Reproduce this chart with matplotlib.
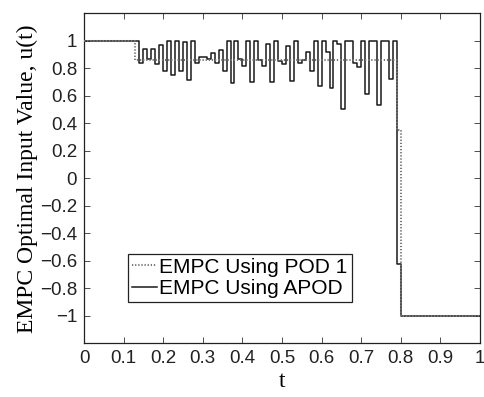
import matplotlib
matplotlib.use("Agg")
import matplotlib.pyplot as plt

# Switching times of the input signal
apod_t = [0.00, 0.14, 0.15, 0.16, 0.17, 0.18, 0.19, 0.20, 0.21, 0.22, 0.23,
          0.24, 0.25, 0.26, 0.27, 0.28, 0.29, 0.30, 0.31, 0.32, 0.33,
          0.34, 0.35, 0.36, 0.37, 0.38, 0.39, 0.40, 0.41, 0.42, 0.43,
          0.44, 0.45, 0.46, 0.47, 0.48, 0.49, 0.50, 0.51, 0.52, 0.53,
          0.54, 0.55, 0.56, 0.57, 0.58, 0.59, 0.60, 0.61, 0.62, 0.63,
          0.64, 0.65, 0.66, 0.67, 0.68, 0.69, 0.70, 0.71, 0.72, 0.73,
          0.74, 0.75, 0.76, 0.77, 0.78, 0.79, 0.80, 1.00]
apod_u = [1.00, 0.836, 0.937, 0.865, 0.937, 0.829, 0.969, 0.782, 1.00, 0.751, 1.00,
          0.782, 0.99, 0.714, 1.00, 0.836, 0.884, 0.88, 0.865, 0.91, 0.84,
          0.93, 0.78, 1.00, 0.695, 1.00, 0.865, 0.82, 1.00, 0.70, 1.00,
          0.86, 0.82, 0.98, 0.70, 1.00, 0.85, 0.83, 0.964, 0.71, 1.00,
          0.84, 0.86, 0.92, 0.78, 1.00, 0.67, 1.00, 0.92, 0.66, 1.00,
          0.98, 0.506, 1.00, 1.00, 0.84, 0.806, 1.00, 0.61, 1.00, 1.00,
          0.536, 1.00, 1.00, 0.724, 1.00, -0.62, -1.00, -1.00]

pod1_t = [0.00, 0.13, 0.79, 0.80, 1.00]
pod1_u = [1.00, 0.86, 0.35, -1.00, -1.00]

x_ticks = [0, 0.1, 0.2, 0.3, 0.4, 0.5, 0.6, 0.7, 0.8, 0.9, 1]
x_labels = ["0", "0.1", "0.2", "0.3", "0.4", "0.5", "0.6", "0.7", "0.8", "0.9", "1"]
y_ticks = [-1, -0.8, -0.6, -0.4, -0.2, 0, 0.2, 0.4, 0.6, 0.8, 1]
y_labels = ["\u22121", "\u22120.8", "\u22120.6", "\u22120.4", "\u22120.2", "0",
            "0.2", "0.4", "0.6", "0.8", "1"]

fig = plt.figure(figsize=(4.85, 3.97), dpi=100)
ax = fig.add_axes([0.1732, 0.1353, 0.8165, 0.8312])

line_apod, = ax.step(apod_t, apod_u, where="post", color="#1a1a1a", lw=1.1,
                     label="EMPC Using APOD", zorder=2)
line_pod, = ax.step(pod1_t, pod1_u, where="post", color="#777777", lw=1.5,
                    ls=(0, (0.6, 0.9)), label="EMPC Using POD 1", zorder=3)

ax.set_xlim(0, 1)
ax.set_ylim(-1.2, 1.2)
ax.set_xticks(x_ticks)
ax.set_xticklabels(x_labels, family="Liberation Sans", fontsize=13.5)
ax.set_yticks(y_ticks)
ax.set_yticklabels(y_labels, family="Liberation Sans", fontsize=13.5)
ax.tick_params(direction="in", length=4, width=0.6, top=True, right=True,
               color="#333333", labelcolor="#222222", pad=5)
for s in ax.spines.values():
    s.set_linewidth(0.9)
    s.set_color("#222222")

ax.set_xlabel("t", family="Liberation Serif", fontsize=17, labelpad=3)
ax.set_ylabel("EMPC Optimal Input Value, u(t)", family="Liberation Serif",
              fontsize=17, labelpad=1)

leg = ax.legend(handles=[line_pod, line_apod], loc="lower left",
                bbox_to_anchor=(0.111, 0.125), prop={"family": "Liberation Sans", "size": 15},
                fancybox=False, framealpha=1, edgecolor="#222222",
                handlelength=1.2, handletextpad=0.1, borderpad=0.2,
                labelspacing=0.1, borderaxespad=0)
leg.get_frame().set_linewidth(0.9)

fig.savefig("out.png", dpi=100)
